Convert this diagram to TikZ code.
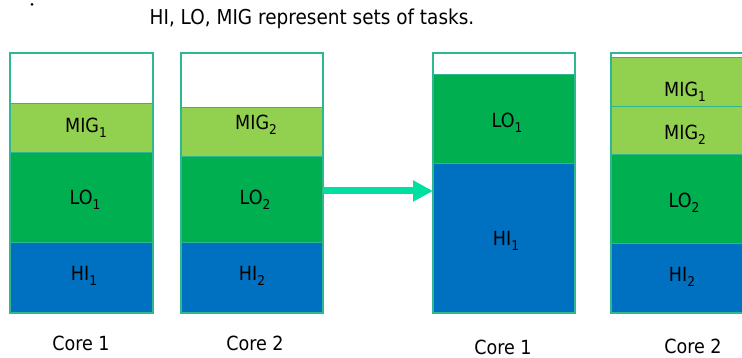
\documentclass[tikz,border=0pt]{standalone}
\usepackage{fontspec}
\setmainfont{DejaVu Sans}[FakeStretch=0.9]
\usetikzlibrary{arrows.meta}
\definecolor{hiblue}{HTML}{0070C0}
\definecolor{logreen}{HTML}{00B050}
\definecolor{miggreen}{HTML}{92D050}
\definecolor{edge}{HTML}{2DB892}
\definecolor{arrowc}{HTML}{00E0A0}
\newcommand{\subidx}[1]{\raisebox{-0.28em}{\fontsize{13.5}{14}\selectfont #1}}
\begin{document}
\begin{tikzpicture}[x=1pt,y=-1pt,
  seg/.style={draw=edge, line width=0.8pt, inner sep=0pt, anchor=north west},
  lbl/.style={font=\fontsize{19.5}{22}\selectfont, inner sep=0pt, text=black},
  frame/.style={draw=edge, line width=1.5pt}]
\useasboundingbox (0,0) rectangle (742,358);
% dot
\node[circle, fill=black, inner sep=0pt, minimum size=3pt] (dot) at (32,4.5) {};
% title
\node[lbl, font=\fontsize{20.5}{24}\selectfont] (title) at (312,19) {HI, LO, MIG represent sets of tasks.};
% ---------- Box 1 ----------
\node[seg, fill=white, minimum width=142pt, minimum height=50pt] (b1w) at (10,53) {};
\node[seg, fill=miggreen, minimum width=142pt, minimum height=49pt] (b1m) at (10,103) {};
\node[seg, fill=logreen, minimum width=142pt, minimum height=90pt] (b1l) at (10,152) {};
\node[seg, fill=hiblue, minimum width=142pt, minimum height=70pt] (b1h) at (10,242) {};
\draw[frame] (b1w.north west) rectangle (b1h.south east);
\node[lbl] (t1m) at (86,128) {MIG\subidx{1}};
\node[lbl] (t1l) at (85,200) {LO\subidx{1}};
\node[lbl] (t1h) at (84,276) {HI\subidx{1}};
% ---------- Box 2 ----------
\node[seg, fill=white, minimum width=141pt, minimum height=54pt] (b2w) at (181,53) {};
\node[seg, fill=miggreen, minimum width=141pt, minimum height=49pt] (b2m) at (181,107) {};
\node[seg, fill=logreen, minimum width=141pt, minimum height=86pt] (b2l) at (181,156) {};
\node[seg, fill=hiblue, minimum width=141pt, minimum height=70pt] (b2h) at (181,242) {};
\draw[frame] (b2w.north west) rectangle (b2h.south east);
\node[lbl] (t2m) at (256,125) {MIG\subidx{2}};
\node[lbl] (t2l) at (255,200) {LO\subidx{2}};
\node[lbl] (t2h) at (252,276) {HI\subidx{2}};
% ---------- Box 3 ----------
\node[seg, fill=white, minimum width=141pt, minimum height=21pt] (b3w) at (433,53) {};
\node[seg, fill=logreen, minimum width=141pt, minimum height=89pt] (b3l) at (433,74) {};
\node[seg, fill=hiblue, minimum width=141pt, minimum height=149pt] (b3h) at (433,163) {};
\draw[frame] (b3w.north west) rectangle (b3h.south east);
\node[lbl] (t3l) at (507,123) {LO\subidx{1}};
\node[lbl] (t3h) at (506,241) {HI\subidx{1}};
% ---------- Box 4 ----------
\node[seg, fill=white, minimum width=150pt, minimum height=4pt] (b4w) at (611,53) {};
\node[seg, fill=miggreen, minimum width=150pt, minimum height=49pt] (b4m1) at (611,57) {};
\node[seg, fill=miggreen, minimum width=150pt, minimum height=48pt] (b4m2) at (611,106) {};
\node[seg, fill=logreen, minimum width=151pt, minimum height=89pt] (b4l) at (610,154) {};
\node[seg, fill=hiblue, minimum width=150pt, minimum height=69pt] (b4h) at (611,243) {};
\draw[frame] (b4w.north west) rectangle (b4h.south east);
\node[lbl] (t4m1) at (685,92) {MIG\subidx{1}};
\node[lbl] (t4m2) at (685,135) {MIG\subidx{2}};
\node[lbl] (t4l) at (684,203) {LO\subidx{2}};
\node[lbl] (t4h) at (682,277) {HI\subidx{2}};
% ---------- Arrow ----------
\coordinate (ay) at (0,191);
\draw[arrowc, line width=7pt, -{Triangle[length=20pt,width=20pt]}]
  (b2l.east |- ay) -- (b3h.west |- ay);
% ---------- Core labels ----------
\node[lbl] (c1) at (81,343) {Core 1};
\node[lbl] (c2) at (255,343) {Core 2};
\node[lbl] (c3) at (503,347) {Core 1};
\node[lbl] (c4) at (693,346) {Core 2};
\end{tikzpicture}
\end{document}
